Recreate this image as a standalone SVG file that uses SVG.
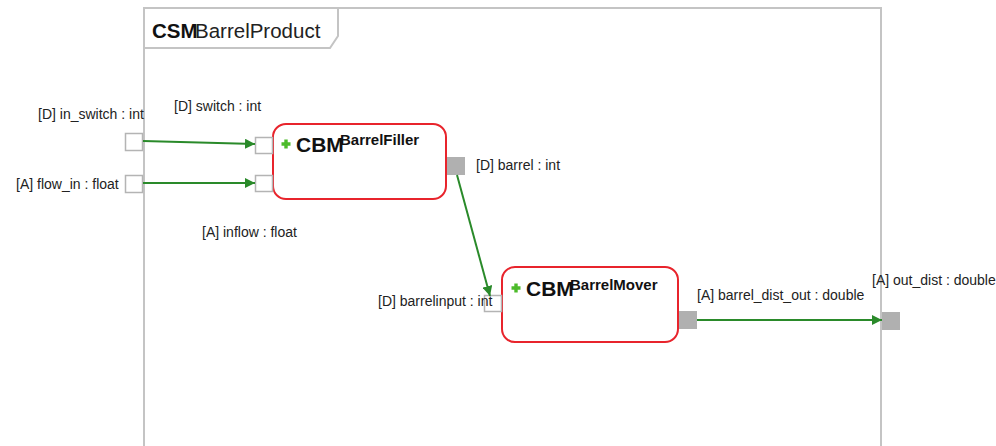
<svg xmlns="http://www.w3.org/2000/svg" width="996" height="446" viewBox="0 0 996 446">
  <style>
    text { font-family: "Liberation Sans", Arial, sans-serif; fill: #222; }
    .lbl { font-size: 14px; }
    .frame { fill: none; stroke: #c4c4c4; stroke-width: 2; }
    .port-in { fill: #fff; stroke: #b4b4b4; stroke-width: 1.5; }
    .port-out { fill: #b0b0b0; stroke: none; }
    .block { fill: #fff; stroke: #e8242c; stroke-width: 2; }
    .cbm { font-size: 21px; font-weight: bold; fill: #111; }
    .bname { font-size: 15px; font-weight: bold; fill: #111; }
    .plus { fill: #4cbb2a; }
    .wire { fill: none; stroke: #2a8a2a; stroke-width: 2; marker-end: url(#arrow); }
  </style>
  <defs>
    <marker id="arrow" viewBox="0 0 10 10" refX="10" refY="5" markerWidth="5" markerHeight="5" orient="auto" markerUnits="strokeWidth">
      <path d="M0,0 L10,5 L0,10 z" fill="#2a8a2a"/>
    </marker>
    <path id="plusIcon" d="M-1.7,-4.5 H1.7 V-1.7 H4.5 V1.7 H1.7 V4.5 H-1.7 V1.7 H-4.5 V-1.7 H-1.7 z"/>
  </defs>
  <rect x="0" y="0" width="996" height="446" fill="#fff"/>

  <!-- Composite frame -->
  <g id="frame">
    <path class="frame" d="M144,446 V8 H881 V446"/>
    <path class="frame" d="M144,48 H330 L338,36 V8"/>
    <text x="152" y="38" style="font-size:20.5px;font-weight:bold;fill:#111">CSM</text>
    <text x="195" y="38" style="font-size:20.5px;fill:#222">BarrelProduct</text>
  </g>

  <!-- Boundary ports -->
  <g id="port-in_switch">
    <rect class="port-in" x="125.5" y="133.5" width="17" height="17"/>
    <text class="lbl" x="38" y="119">[D] in_switch : int</text>
  </g>
  <g id="port-flow_in">
    <rect class="port-in" x="125.5" y="175.5" width="17" height="17"/>
    <text class="lbl" x="16" y="189">[A] flow_in : float</text>
  </g>
  <g id="port-out_dist">
    <rect class="port-out" x="882" y="312" width="18" height="18"/>
    <text class="lbl" x="872" y="285">[A] out_dist : double</text>
  </g>

  <!-- BarrelFiller -->
  <g id="BarrelFiller">
    <rect class="block" x="273" y="124" width="173" height="75" rx="13"/>
    <use href="#plusIcon" class="plus" x="286" y="144"/>
    <text class="cbm" x="296" y="152">CBM</text>
    <text class="bname" x="340" y="145">BarrelFiller</text>
    <rect class="port-in" x="255.5" y="137.5" width="17" height="16"/>
    <text class="lbl" x="174" y="111">[D] switch : int</text>
    <rect class="port-in" x="255.5" y="175.5" width="17" height="16"/>
    <text class="lbl" x="202" y="237">[A] inflow : float</text>
    <rect class="port-out" x="447" y="157" width="18" height="18"/>
    <text class="lbl" x="476" y="170">[D] barrel : int</text>
  </g>

  <!-- BarrelMover -->
  <g id="BarrelMover">
    <rect class="block" x="502" y="267" width="176" height="75" rx="13"/>
    <use href="#plusIcon" class="plus" x="516" y="288"/>
    <text class="cbm" x="526" y="296">CBM</text>
    <text class="bname" x="570" y="290">BarrelMover</text>
    <rect class="port-in" x="484.5" y="295.5" width="17" height="16"/>
    <text class="lbl" x="378" y="306">[D] barrelinput : int</text>
    <rect class="port-out" x="679" y="311" width="18" height="18"/>
    <text class="lbl" x="697" y="300">[A] barrel_dist_out : double</text>
  </g>

  <!-- Connectors -->
  <g id="connectors">
    <path class="wire" d="M143,141 L255,144"/>
    <path class="wire" d="M143,183 L255,183"/>
    <path class="wire" d="M457,175 L490,296"/>
    <path class="wire" d="M697,320 L882,320"/>
  </g>
</svg>
